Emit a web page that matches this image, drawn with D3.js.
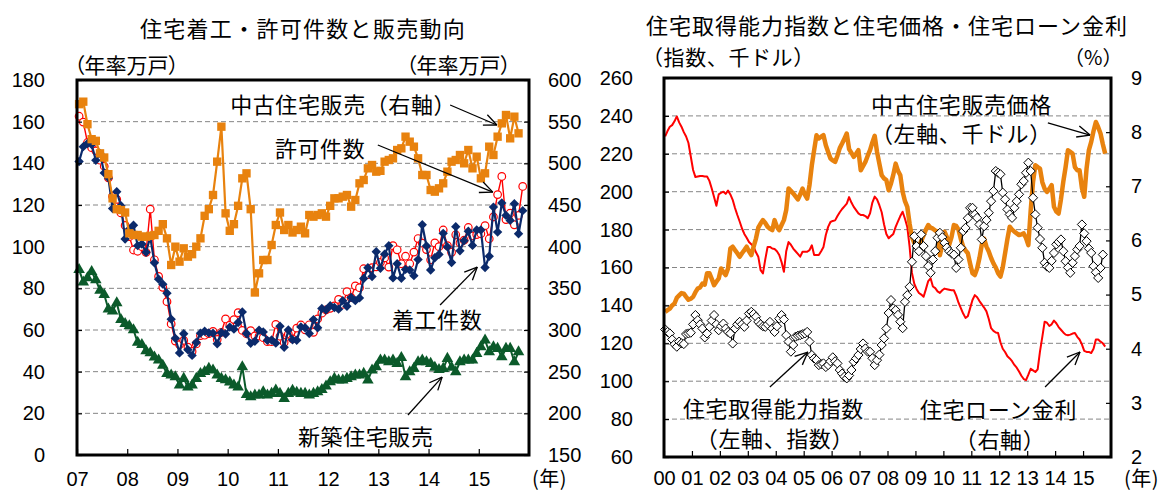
<!DOCTYPE html>
<html>
<head>
<meta charset="utf-8">
<script src="https://cdn.jsdelivr.net/npm/d3@7"></script>
<style>
  html, body { margin: 0; padding: 0; background: #fff; }
  svg { display: block; }
</style>
</head>
<body>
<svg id="chart" width="1165" height="491"></svg>
<script>
// ---------------- Left panel: housing starts, permits and sales (annual rate, 10k units)
// Monthly series starting January 2007
const leftStartYear = 2007;
const housingStarts = [
  140.9,148.0,149.5,149.0,141.5,144.8,135.4,133.0,118.3,126.4,119.7,103.7,
  108.4,110.3,100.5,101.3,97.3,104.6,92.3,84.4,82.0,77.7,65.2,56.0,
  49.0,58.2,50.5,47.8,54.0,58.5,59.4,58.6,58.5,53.4,58.8,58.1,
  61.4,60.4,63.6,68.7,58.3,53.6,54.6,59.9,59.1,55.0,55.2,53.7,
  61.8,51.7,60.0,55.3,55.1,61.5,61.1,58.3,65.0,61.1,70.3,69.6,
  71.7,70.8,70.0,74.1,71.4,75.6,74.1,75.4,84.7,89.9,85.7,97.6,
  89.6,96.4,100.5,85.0,91.8,84.8,89.1,88.8,86.1,93.8,110.5,100.3,
  88.8,94.7,96.3,106.4,99.9,92.4,109.6,98.0,102.9,107.4,100.6,108.0,
  108.0,90.0,95.4,119.0,107.0,121.0,115.0,112.6,120.6,106.2,117.3
];
const buildingPermits = [
  162.6,159.8,150.0,147.5,146.0,141.5,138.6,133.0,124.1,122.7,116.2,110.2,
  104.8,98.4,97.8,100.0,97.3,118.0,93.7,85.7,80.5,73.6,62.9,54.7,
  53.0,55.0,51.8,49.7,53.3,57.3,57.5,58.3,59.3,55.5,58.9,65.3,
  62.3,65.0,68.3,59.8,58.2,59.7,57.2,57.1,56.3,54.4,54.4,62.7,
  57.0,54.0,58.0,55.7,60.9,62.4,60.1,62.5,58.9,65.3,68.1,69.7,
  70.4,71.6,74.7,72.3,78.4,75.5,81.2,80.3,89.4,86.6,89.9,90.3,
  92.5,94.6,90.2,100.5,98.5,91.8,95.4,91.8,97.4,103.9,101.7,98.6,
  93.7,101.8,100.0,108.0,100.5,97.3,105.7,101.8,103.1,109.2,105.2,105.8,
  106.2,110.1,103.8,114.3,125.0,133.7,113.0,116.1,110.5,115.0,128.9
];
const newHomeSales = [
  89,83,85,88,84,79,77,70,69,73,65,63,
  62,60,54,53,50,49,47,45.5,43,39,38.3,37.5,
  33.5,36.7,32.6,33.5,36.7,39,40,41.5,40.7,38.3,36.7,36,
  35,33.5,32.6,42.3,29,27.9,28.7,28.7,30.3,28.7,29.5,31.1,
  29.5,27,29.5,31,30,29.5,29.5,28.7,29.5,30.3,31.4,33,
  35.1,36.7,35.9,35.9,36.7,37.5,38.3,38.3,39.1,35.9,40.7,42.3,
  45.5,45.5,44.7,45.5,43.9,46.7,37.5,39.9,41.5,44.7,45.5,44.7,
  43.9,42,41,41.5,46.3,42,39.9,44.7,45.5,45.5,45.5,48.7,
  51.9,55.1,49.5,51.9,51.1,47.1,51.1,51.1,44.7,49.5
];
// right axis
const existingHomeSales = [
  571,574,547,529,527,512,507,487,458,445,444,441,
  416,414,414,412,412,413,414,419,427,410,378,400,
  382,398,388,391,400,410,437,445,462,502,544,440,
  419,427,449,482,488,445,345,368,384,384,402,426,
  441,420,426,417,420,424,416,438,436,438,440,436,
  449,458,458,460,462,448,456,476,480,494,498,490,
  491,502,504,506,516,518,532,526,520,506,486,486,
  468,466,470,476,490,502,504,510,500,516,494,508,
  482,488,520,510,532,548,558,530,556,536
];
const leftYearTicks = [2007, 2008, 2009, 2010, 2011, 2012, 2013, 2014, 2015];
const leftAxisTicks = [0, 20, 40, 60, 80, 100, 120, 140, 160, 180];
const leftAxisTicks2 = [150, 200, 250, 300, 350, 400, 450, 500, 550, 600];

// ---------------- Right panel: affordability, home price, mortgage rate
// Monthly series starting January 2000
const rightStartYear = 2000;
const homePrice = [
  136.6,137.5,138.3,140,141,144,145.3,146.5,146.2,144.5,143,143.5,
  144.5,147,148.9,149.5,151.5,151,157,157,154,150.7,152.5,154.2,
  159.5,157.5,156,159.5,170,171,169.2,167.5,165.6,167.5,169.2,171,
  168.5,166.5,171,175.3,181,183.2,185,183.5,181.5,180.5,179.7,185,
  181.5,179.7,182.4,185,190.3,201.7,200.5,199.1,197.5,195.9,198.5,201.7,
  198.5,196.4,203.5,214,222,229.8,228.1,229,229.8,224.5,221,217.5,
  216.5,215.7,219,223,225.4,228,230.7,222.5,220.5,218.4,220,221.9,
  211.3,213.5,215.7,219,221.9,226,229.5,221,214.8,208.7,207,206.1,
  200.8,204.3,209,214.8,211,208.7,200,195,192,183,176,173,
  172,171,174,177,180,182.4,181,180.5,179.5,178.9,166.5,172,
  178.9,176,172,176,182.4,182,180,175,171,169,167.5,162,
  157,156,159.5,165,172,175.3,171,168.4,165,162.2,160,157,
  155.2,160,167.5,175,181.5,180,178.9,178,177.1,177.5,178,175.5,
  171.8,190,205,214,213,212.2,205,201.5,199.9,201.5,203.5,192,
  189.5,188.5,196,205.2,213,221.9,221,220.1,213,211.3,211.3,202,
  197.3,212.2,222,226.3,232,236.8,234,230.7,225,220.1
];
const affordabilityIndex = [
  127.3,126,125.2,122,119.5,118.2,120.9,120,119.6,124.9,125.2,125.6,
  130,134.9,132.2,130,127.8,123.1,125.2,128.7,132,134.9,130,126.9,
  129,130.4,127.8,126,125.2,119.9,127.8,130,131.3,130,128.7,132,
  135.7,136.6,135.5,134,131.3,130,129,128.7,130,131.3,127.8,126,
  129,133,134.9,132.6,124.3,120.9,115.6,119.1,123.5,124,124.3,124.8,
  125.2,126,120.9,113.8,112,111.2,108.5,109,109.4,107.5,108.5,110.5,
  112.6,110.5,109.4,105.9,104,102.4,101.5,103,105.9,110.3,112,113.8,
  117,119.9,117.3,115.6,115.5,112.1,108.5,111.1,114,119.1,122.6,127.8,
  136,142.8,138.4,137.5,135,131.4,128,141.9,145.4,149.8,163,176.5,
  171.3,168.6,177.4,171.3,166,160.7,157.2,164.2,168.6,175.7,178.3,176,
  173,170.5,168.6,167.5,166.8,159.8,164.2,170.4,179.2,180.9,186,191.5,
  191.5,188,186.2,182.7,174.8,181.8,185,188.9,195,200.3,210.9,210,
  209.2,199.5,196,190.6,188,186.2,191.5,195,198.6,203.9,205.6,210,
  215.3,210.9,196.8,188,181,175,170.4,162.5,160.5,159.8,163.5,167.7,
  172.2,173.5,174.8,168.6,163.3,160,157.2,162.5,166,169.5,171.3,182.7,
  178,173.9,170,167.7,160.7,157.5,154.5,159.8,166.8
];
// right axis, percent
const mortgageRate = [
  7.92,8.02,8.10,8.13,8.20,8.29,8.18,8.10,8.00,7.92,7.80,7.55,
  7.30,7.17,7.18,7.19,7.19,7.18,7.18,7.10,6.96,6.80,6.64,6.85,
  6.88,6.90,6.86,6.92,6.85,6.75,6.60,6.47,6.35,6.22,6.12,6.05,
  5.97,5.93,5.88,5.78,5.70,5.45,5.39,5.65,5.88,5.88,5.85,5.84,
  5.80,5.73,5.60,5.42,5.80,5.97,5.92,5.85,5.80,5.75,5.70,5.79,
  5.79,5.79,5.82,5.91,5.73,5.73,5.73,5.80,5.88,6.10,6.25,6.34,
  6.36,6.37,6.45,6.52,6.58,6.63,6.68,6.80,6.70,6.62,6.56,6.50,
  6.47,6.47,6.45,6.41,6.50,6.70,6.81,6.76,6.65,6.52,6.30,6.12,
  6.04,6.08,6.12,6.25,6.35,6.45,6.53,6.40,6.25,5.88,5.40,5.20,
  5.10,5.03,5.00,4.96,5.10,5.25,5.30,5.15,5.12,5.06,5.03,5.08,
  5.11,5.10,5.09,5.08,5.08,4.98,4.85,4.75,4.65,4.57,4.60,4.75,
  4.90,4.99,4.95,4.88,4.82,4.76,4.69,4.55,4.38,4.33,4.30,4.29,
  4.12,4.00,3.94,3.86,3.82,3.77,3.70,3.65,3.58,3.50,3.44,3.42,
  3.52,3.63,3.60,3.57,3.62,3.95,4.22,4.50,4.48,4.42,4.45,4.52,
  4.47,4.40,4.35,4.30,4.26,4.25,4.26,4.28,4.29,4.22,4.17,4.08,
  3.96,3.94,3.94,3.92,4.00,4.17,4.17,4.13,4.10,4.04
];
const rightYearTicks = [2000,2001,2002,2003,2004,2005,2006,2007,2008,2009,2010,2011,2012,2013,2014,2015];
const rightAxisTicks = [60, 80, 100, 120, 140, 160, 180, 200, 220, 240, 260];
const rightAxisTicks2 = [2, 3, 4, 5, 6, 7, 8, 9];

// ---------------- drawing helpers
const JP = '"Noto Sans CJK JP","Noto Sans CJK SC",sans-serif';
const NUM = '"Liberation Sans",Arial,sans-serif';
const ORANGE = "#E8820E", NAVY = "#0B2A6B", GREEN = "#0B5A2A", RED = "#FF0000";

const svg = d3.select("#chart");
const monthPos = (start, i) => start + (i + 0.5) / 12;

const rhombus = {
  draw(ctx, size) {
    const r = Math.sqrt(size / 2);
    ctx.moveTo(0, -r); ctx.lineTo(r, 0); ctx.lineTo(0, r); ctx.lineTo(-r, 0); ctx.closePath();
  }
};

function styleAxis(g) {
  g.select(".domain").remove();
  g.selectAll(".tick line").attr("stroke", "#000").attr("stroke-width", 1.2);
  g.selectAll(".tick text").attr("fill", "#000").attr("font-family", NUM).attr("font-size", 20);
}

function arrow(g, x1, y1, x2, y2) {
  const ang = Math.atan2(y2 - y1, x2 - x1), len = 14, spread = 0.42;
  const a = g.append("g").attr("stroke", "#000").attr("stroke-width", 1.3).attr("fill", "none");
  a.append("line").attr("x1", x1).attr("y1", y1).attr("x2", x2).attr("y2", y2);
  [-1, 1].forEach(s => a.append("line")
    .attr("x1", x2).attr("y1", y2)
    .attr("x2", x2 - len * Math.cos(ang + s * spread))
    .attr("y2", y2 - len * Math.sin(ang + s * spread)));
}

function label(g, text, x, y, opts = {}) {
  const t = g.append("text").attr("x", x).attr("y", y)
    .attr("dominant-baseline", "central")
    .attr("text-anchor", opts.anchor || "start")
    .attr("font-family", opts.font || JP)
    .attr("font-size", opts.size || 22)
    .attr("letter-spacing", opts.spacing == null ? 0.6 : opts.spacing)
    .attr("fill", "#000")
    .text(text);
  if (opts.palt) t.style("font-feature-settings", '"palt"');
  return t;
}

function drawFrame(g, box) {
  g.append("rect").attr("x", box.x0).attr("y", box.y1)
    .attr("width", box.x1 - box.x0).attr("height", box.y0 - box.y1)
    .attr("fill", "none").attr("stroke", "#000").attr("stroke-width", 3);
}

function grid(g, box, scale, ticks) {
  g.append("g").selectAll("line").data(ticks.slice(1, -1)).join("line")
    .attr("x1", box.x0).attr("x2", box.x1)
    .attr("y1", d => scale(d)).attr("y2", d => scale(d))
    .attr("stroke", "#858585").attr("stroke-width", 1).attr("stroke-dasharray", "5,3");
}

// ================= Left panel
const LB = { x0: 77, x1: 529, y0: 455, y1: 80 };
const xL = d3.scaleLinear().domain([2007, 2016]).range([LB.x0, LB.x1]);
const yL = d3.scaleLinear().domain([0, 180]).range([LB.y0, LB.y1]);
const yL2 = d3.scaleLinear().domain([150, 600]).range([LB.y0, LB.y1]);
const gL = svg.append("g");

grid(gL, LB, yL, leftAxisTicks);

const lineL = (ys) => d3.line().x((d, i) => xL(monthPos(leftStartYear, i))).y(d => ys(d));

// building permits
gL.append("path").datum(buildingPermits).attr("d", lineL(yL))
  .attr("fill", "none").attr("stroke", RED).attr("stroke-width", 1.4);
gL.append("g").selectAll("circle").data(buildingPermits).join("circle")
  .attr("cx", (d, i) => xL(monthPos(leftStartYear, i))).attr("cy", d => yL(d))
  .attr("r", 3.8).attr("fill", "#fff").attr("stroke", RED).attr("stroke-width", 1.2);

// housing starts
gL.append("path").datum(housingStarts).attr("d", lineL(yL))
  .attr("fill", "none").attr("stroke", NAVY).attr("stroke-width", 2.2);
gL.append("g").selectAll("path").data(housingStarts).join("path")
  .attr("transform", (d, i) => `translate(${xL(monthPos(leftStartYear, i))},${yL(d)})`)
  .attr("d", d3.symbol(rhombus, 44)).attr("fill", NAVY);

// new home sales
gL.append("path").datum(newHomeSales).attr("d", lineL(yL))
  .attr("fill", "none").attr("stroke", GREEN).attr("stroke-width", 2);
gL.append("g").selectAll("path").data(newHomeSales).join("path")
  .attr("transform", (d, i) => `translate(${xL(monthPos(leftStartYear, i))},${yL(d)})`)
  .attr("d", d3.symbol(d3.symbolTriangle, 58)).attr("fill", GREEN);

// existing home sales (right axis)
gL.append("path").datum(existingHomeSales).attr("d", lineL(yL2))
  .attr("fill", "none").attr("stroke", ORANGE).attr("stroke-width", 2.2);
gL.append("g").selectAll("path").data(existingHomeSales).join("path")
  .attr("transform", (d, i) => `translate(${xL(monthPos(leftStartYear, i))},${yL2(d)})`)
  .attr("d", d3.symbol(d3.symbolSquare, 70)).attr("fill", ORANGE);

// axes
gL.append("g").attr("transform", `translate(${LB.x0},0)`)
  .call(d3.axisLeft(yL).tickValues(leftAxisTicks).tickSizeInner(-5).tickSizeOuter(0).tickPadding(32))
  .call(styleAxis);
gL.append("g").attr("transform", `translate(${LB.x1},0)`)
  .call(d3.axisRight(yL2).tickValues(leftAxisTicks2).tickSizeInner(-5).tickSizeOuter(0).tickPadding(19))
  .call(styleAxis);
gL.append("g").attr("transform", `translate(0,${LB.y0})`)
  .call(d3.axisBottom(xL).tickValues(leftYearTicks).tickFormat(d => String(d).slice(2))
    .tickSizeInner(-6).tickSizeOuter(0).tickPadding(17))
  .call(styleAxis);
drawFrame(gL, LB);

label(gL, "住宅着工・許可件数と販売動向", 303, 27, { anchor: "middle", size: 22, spacing: 1.3 });
label(gL, "（年率万戸）", 74, 64, { size: 21, spacing: 0, palt: true });
label(gL, "（年率万戸）", 406, 64, { size: 21, spacing: 0, palt: true });
label(gL, "(年)", 532, 477, { size: 20, spacing: 0.5 });

// annotations (data coordinates on the left axis)
const leftNotes = [
  { text: "中古住宅販売（右軸）", at: [2010.05, 169], from: [2014.43, 168], to: [2015.36, 158.4] },
  { text: "許可件数", at: [2010.94, 147.8], from: [2012.99, 148.8], to: [2015.28, 126.2] },
  { text: "着工件数", at: [2013.27, 65.8], from: [2014.23, 72], to: [2014.97, 90.2] },
  { text: "新築住宅販売", at: [2011.40, 9.6], from: [2013.59, 19.2], to: [2014.27, 37.4] }
];
leftNotes.forEach(n => {
  label(gL, n.text, xL(n.at[0]), yL(n.at[1]));
  arrow(gL, xL(n.from[0]), yL(n.from[1]), xL(n.to[0]), yL(n.to[1]));
});

// ================= Right panel
const RB = { x0: 664, x1: 1111, y0: 457, y1: 78 };
const xR = d3.scaleLinear().domain([2000, 2016]).range([RB.x0, RB.x1]);
const yR = d3.scaleLinear().domain([60, 260]).range([RB.y0, RB.y1]);
const yR2 = d3.scaleLinear().domain([2, 9]).range([RB.y0, RB.y1]);
const gR = svg.append("g");

grid(gR, RB, yR, rightAxisTicks);

const lineR = (ys) => d3.line().x((d, i) => xR(monthPos(rightStartYear, i))).y(d => ys(d));

gR.append("path").datum(mortgageRate).attr("d", lineR(yR2))
  .attr("fill", "none").attr("stroke", RED).attr("stroke-width", 2).attr("stroke-linejoin", "round");
gR.append("path").datum(homePrice).attr("d", lineR(yR))
  .attr("fill", "none").attr("stroke", ORANGE).attr("stroke-width", 4.5).attr("stroke-linejoin", "round");
gR.append("path").datum(affordabilityIndex).attr("d", lineR(yR))
  .attr("fill", "none").attr("stroke", "#000").attr("stroke-width", 1.3);
gR.append("g").selectAll("path").data(affordabilityIndex).join("path")
  .attr("transform", (d, i) => `translate(${xR(monthPos(rightStartYear, i))},${yR(d)})`)
  .attr("d", d3.symbol(rhombus, 42)).attr("fill", "#fff").attr("stroke", "#000").attr("stroke-width", 1);

gR.append("g").attr("transform", `translate(${RB.x0},0)`)
  .call(d3.axisLeft(yR).tickValues(rightAxisTicks).tickSizeInner(-5).tickSizeOuter(0).tickPadding(31))
  .call(styleAxis);
gR.append("g").attr("transform", `translate(${RB.x1},0)`)
  .call(d3.axisRight(yR2).tickValues(rightAxisTicks2).tickFormat(d3.format("d"))
    .tickSizeInner(-5).tickSizeOuter(0).tickPadding(20))
  .call(styleAxis);
gR.append("g").attr("transform", `translate(0,${RB.y0})`)
  .call(d3.axisBottom(xR).tickValues(rightYearTicks).tickFormat(d => String(d).slice(2))
    .tickSizeInner(-6).tickSizeOuter(0).tickPadding(14))
  .call(styleAxis);
drawFrame(gR, RB);

label(gR, "住宅取得能力指数と住宅価格・住宅ローン金利", 887, 24, { anchor: "middle", size: 22, spacing: 1 });
label(gR, "（指数、千ドル）", 642, 56, { size: 21, spacing: 0.6 });
label(gR, "（%）", 1064, 56, { size: 20, spacing: 0 });
label(gR, "(年)", 1124, 477, { size: 20, spacing: 0.5 });

const rightNotes = [
  { lines: ["中古住宅販売価格", "（左軸、千ドル）"], at: [[2007.41, 246.8], [2007.41, 231.5]],
    from: [2013.74, 236.3], to: [2015.25, 229.9] },
  { lines: ["住宅取得能力指数", "（左軸、指数）"], at: [[2000.68, 86.4], [2001.14, 70.6]],
    from: [2003.79, 96.9], to: [2005.15, 115.4] },
  { lines: ["住宅ローン金利", "（右軸）"], at: [[2009.16, 85.9], [2010.41, 70.0]],
    from: [2013.64, 96.9], to: [2014.89, 115.4] }
];
rightNotes.forEach(n => {
  n.lines.forEach((t, k) => label(gR, t, xR(n.at[k][0]), yR(n.at[k][1])));
  arrow(gR, xR(n.from[0]), yR(n.from[1]), xR(n.to[0]), yR(n.to[1]));
});
</script>
</body>
</html>
